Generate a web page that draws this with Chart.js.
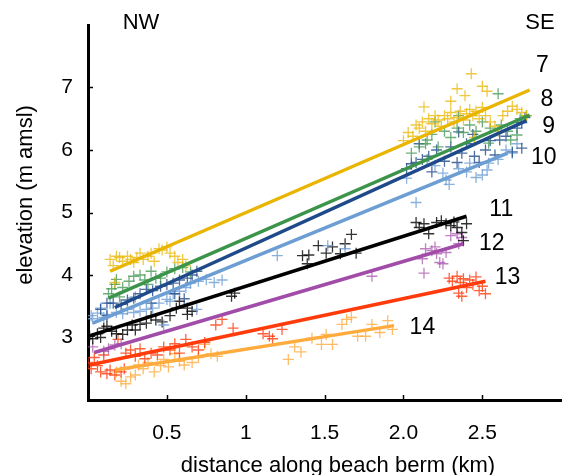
<!DOCTYPE html>
<html>
<head>
<meta charset="utf-8">
<script src="https://cdn.jsdelivr.net/npm/chart.js@4.4.1/dist/chart.umd.min.js"></script>
<style>
  body { margin: 0; background: #fff; }
  canvas { display: block; }
</style>
</head>
<body>
<canvas id="chart" width="568" height="475"></canvas>
<script>
// profile numbers (labels on the right)
const profiles = ['7', '8', '9', '10', '11', '12', '13', '14'];

// x tick labels (km)
const xTickLabels = { 0.5: '0.5', 1: '1', 1.5: '1.5', 2: '2.0', 2.5: '2.5' };

// measured berm elevations [distance km, elevation m amsl]
const pts7 = [[0.14,4.25],[0.16,4.15],[0.18,4.30],[0.20,4.28],[0.22,4.22],[0.25,4.30],[0.27,4.25],[0.29,4.20],[0.31,4.28],[0.33,4.35],
  [0.35,4.25],[0.38,4.30],[0.40,4.35],[0.42,4.22],[0.45,4.42],[0.47,4.40],[0.50,4.45],[0.52,4.35],[0.55,4.30],[0.57,4.20],
  [0.60,4.25],[0.62,4.15],[0.17,3.88],
  [2.00,6.15],[2.03,6.28],[2.06,6.22],[2.08,6.40],[2.10,6.35],[2.12,6.45],[2.14,6.30],[2.16,6.50],[2.18,6.42],[2.20,6.55],
  [2.22,6.48],[2.24,6.38],[2.26,6.55],[2.28,6.50],[2.30,6.60],[2.32,6.45],[2.34,6.52],[2.36,6.62],[2.38,6.48],[2.40,6.58],
  [2.42,6.65],[2.44,6.55],[2.46,6.62],[2.48,6.50],[2.50,6.68],[2.52,6.55],[2.55,6.45],[2.58,6.38],[2.60,6.30],[2.63,6.55],
  [2.66,6.62],[2.69,6.70],[2.72,6.65],[2.75,6.60],[2.78,6.55],
  [2.43,7.22],[2.34,6.98],[2.39,6.87],[2.50,7.02],[2.53,6.94],[2.13,6.69],[2.30,6.78],[2.45,6.20]];
const pts8 = [[0.13,3.70],[0.15,3.78],[0.17,3.85],[0.18,3.93],[0.22,3.80],[0.26,3.90],[0.29,3.98],[0.33,4.00],[0.36,3.92],[0.40,4.06],
  [0.43,3.95],[0.46,3.95],[0.50,4.05],[0.55,4.10],[0.60,4.12],[0.65,4.05],[0.20,3.65],[0.38,3.85],
  [2.05,5.95],[2.10,6.05],[2.14,6.10],[2.15,6.16],[2.18,6.25],[2.22,6.05],[2.26,6.30],[2.30,6.20],[2.34,6.35],[2.38,6.28],
  [2.42,6.40],[2.46,6.30],[2.50,6.45],[2.54,6.11],[2.55,6.35],[2.60,6.90],[2.62,6.40],[2.66,6.30],[2.68,6.16],[2.72,6.24],
  [2.74,6.50],[2.78,6.55],[2.20,6.45],[2.35,6.55],[2.15,5.85]];
const pts9 = [[0.08,3.45],[0.12,3.55],[0.16,3.55],[0.21,3.53],[0.25,3.60],[0.29,3.63],[0.33,3.70],[0.37,3.77],[0.41,3.75],[0.46,3.82],
  [0.50,3.85],[0.54,3.87],[0.58,3.92],[0.63,3.95],[0.66,4.00],[0.69,4.06],[0.55,3.70],[0.40,3.55],[0.12,3.35],[0.61,3.62],
  [2.02,5.70],[2.05,5.78],[2.08,5.80],[2.12,5.85],[2.10,6.10],[2.16,5.90],[2.21,6.00],[2.26,5.82],[2.30,6.05],[2.34,5.80],
  [2.37,5.95],[2.40,6.10],[2.45,5.90],[2.48,5.80],[2.52,6.00],[2.55,6.15],[2.58,5.92],[2.61,6.16],[2.65,6.22],[2.69,5.97],
  [2.72,6.35],[2.75,6.03],[2.75,6.44],[2.77,6.52],[2.35,6.29],[2.44,6.25],[2.18,5.65]];
const pts10 = [[0.02,3.35],[0.03,3.30],[0.06,3.39],[0.08,3.47],[0.10,3.32],[0.12,3.37],[0.14,3.55],[0.18,3.40],[0.22,3.38],[0.25,3.45],
  [0.29,3.40],[0.33,3.42],[0.37,3.45],[0.41,3.47],[0.45,3.55],[0.50,3.61],[0.54,3.70],[0.58,3.74],[0.62,3.80],[0.65,3.87],
  [0.70,3.90],[0.75,3.93],[0.80,3.88],[0.85,3.92],[0.48,3.20],[0.30,3.65],[0.69,3.45],[0.52,3.58],
  [1.20,4.31],[1.52,4.47],[1.63,4.42],
  [2.02,5.55],[2.08,5.16],[2.25,5.63],[2.27,5.52],[2.29,5.45],[2.35,5.70],[2.40,5.65],[2.42,5.79],[2.46,5.56],[2.50,5.60],
  [2.53,5.68],[2.54,5.79],[2.60,5.85],[2.65,6.00],[2.69,5.95],[2.72,6.10],[2.20,5.75]];
const pts11 = [[0.01,3.02],[0.03,2.98],[0.06,3.06],[0.08,3.00],[0.10,3.15],[0.12,3.18],[0.15,3.10],[0.18,3.06],[0.22,3.05],[0.25,3.12],
  [0.28,3.20],[0.33,3.21],[0.37,3.23],[0.40,3.34],[0.43,3.28],[0.47,3.25],[0.52,3.35],[0.56,3.47],[0.58,3.58],[0.63,3.37],
  [0.66,3.42],[0.63,3.47],[0.30,3.12],
  [0.91,3.66],[0.93,3.71],[1.36,4.31],[1.39,4.18],[1.40,4.32],[1.46,4.47],[1.51,4.35],[1.55,4.45],[1.60,4.34],[1.63,4.50],
  [1.67,4.65],[1.70,4.35],
  [2.08,4.84],[2.10,4.76],[2.13,4.82],[2.16,4.66],[2.21,4.84],[2.24,4.87],[2.27,4.82],[2.30,4.79],[2.32,4.85],[2.34,4.76],
  [2.37,4.68],[2.40,4.82],[2.38,4.55]];
const pts12 = [[0.03,2.85],[0.13,2.82],[0.17,2.88],[0.21,2.90],[0.10,2.78],
  [1.80,3.98],
  [2.12,4.26],[2.13,4.03],[2.14,4.42],[2.18,4.39],[2.21,4.34],[2.23,4.20],[2.25,4.18],[2.27,4.36],[2.30,4.63],[2.34,4.66],
  [2.37,4.60],[2.35,4.50],[2.20,4.45]];
const pts13 = [[0.00,2.60],[0.02,2.50],[0.04,2.68],[0.06,2.55],[0.08,2.45],[0.10,2.72],[0.12,2.42],[0.14,2.48],[0.17,2.40],[0.19,2.97],
  [0.21,2.45],[0.23,2.50],[0.24,2.75],[0.27,2.80],[0.30,2.70],[0.33,2.82],[0.36,2.66],[0.40,2.75],[0.44,2.72],[0.48,2.85],
  [0.52,2.80],[0.55,2.90],[0.58,2.75],[0.62,2.97],[0.66,2.85],[0.70,2.80],[0.74,2.92],[0.81,3.20],[0.85,3.29],[0.92,3.15],
  [1.11,3.06],[1.15,3.02],[1.17,2.98],[1.23,3.13],
  [2.29,3.95],[2.31,3.90],[2.34,3.98],[2.36,3.88],[2.38,3.94],[2.40,3.80],[2.42,3.92],[2.44,3.85],[2.46,3.97],[2.48,3.75],
  [2.50,3.82],[2.52,3.70],[2.37,3.66],[2.35,3.71]];
const pts14 = [[0.18,2.45],[0.21,2.30],[0.24,2.26],[0.27,2.37],[0.32,2.56],[0.35,2.50],[0.38,2.60],[0.42,2.45],[0.46,2.55],[0.51,2.53],
  [0.55,2.74],[0.58,2.62],[0.61,2.56],[0.66,2.60],[0.70,2.68],[0.74,2.89],[0.78,2.74],[0.82,2.70],[0.30,2.40],[0.48,2.65],
  [1.27,2.65],[1.31,2.85],[1.35,2.77],[1.42,2.99],[1.48,2.89],[1.51,3.05],[1.55,2.89],[1.61,3.21],[1.64,3.29],[1.67,3.32],
  [1.71,3.02],[1.76,3.02],[1.80,3.21],[1.85,3.08],[1.90,3.27],[1.93,3.13]];

// fitted trend lines: start and end [km, m]
const lineStart = [[0.14,4.06],[0.13,3.63],[0.17,3.48],[0.03,3.23],[0.00,3.02],[0.04,2.76],[0.01,2.56],[0.17,2.48]];
const lineEnd   = [[2.80,6.96],[2.80,6.56],[2.78,6.47],[2.66,5.95],[2.40,4.94],[2.38,4.50],[2.52,3.90],[1.94,3.19]];

// where each profile number sits [km, m]
const labelAt = [[2.88,7.35],[2.91,6.81],[2.92,6.37],[2.89,5.87],[2.62,5.05],[2.56,4.50],[2.66,3.95],[2.12,3.16]];

const allPts = [pts7, pts8, pts9, pts10, pts11, pts12, pts13, pts14];
const colors = ['#E9B500', '#3C944B', '#1E4A8A', '#6C9DD3', '#000000', '#A24CA9', '#FF3B0B', '#FFAB3E'];
const pointColors = ['rgba(233,181,0,0.75)', 'rgba(60,148,75,0.75)', 'rgba(30,74,138,0.8)', 'rgba(108,157,211,0.8)',
  'rgba(0,0,0,0.8)', 'rgba(162,76,169,0.7)', 'rgba(255,59,11,0.8)', 'rgba(255,171,62,0.8)'];

const FONT = 'Liberation Sans, Arial, sans-serif';

const datasets = [];
allPts.forEach((pts, i) => {
    datasets.push({
        data: pts.map(p => ({ x: p[0], y: p[1] })),
        pointStyle: 'cross',
        pointRadius: 5.5,
        pointBorderWidth: 1.3,
        borderColor: pointColors[i],
        backgroundColor: pointColors[i],
        showLine: false,
        order: 2
    });
});
profiles.forEach((p, i) => {
    datasets.push({
        data: [{ x: lineStart[i][0], y: lineStart[i][1] }, { x: lineEnd[i][0], y: lineEnd[i][1] }],
        showLine: true,
        borderColor: colors[i],
        borderWidth: 3.5,
        pointRadius: 0,
        order: 1
    });
});

// inward tick marks, axis titles and annotations
const decor = {
    id: 'decor',
    afterDraw(chart) {
        const { ctx, chartArea: a, scales: { x, y } } = chart;
        ctx.save();
        ctx.strokeStyle = '#000';
        ctx.lineWidth = 1.5;
        [3, 4, 5, 6, 7].forEach(v => {
            const py = Math.round(y.getPixelForValue(v)) + 0.5;
            ctx.beginPath(); ctx.moveTo(a.left, py); ctx.lineTo(a.left + 5, py); ctx.stroke();
        });
        [0.5, 1, 1.5, 2, 2.5].forEach(v => {
            const px = Math.round(x.getPixelForValue(v)) + 0.5;
            ctx.beginPath(); ctx.moveTo(px, a.bottom); ctx.lineTo(px, a.bottom - 5); ctx.stroke();
        });

        ctx.fillStyle = '#000';
        ctx.textAlign = 'center';
        ctx.textBaseline = 'middle';
        ctx.font = '22px ' + FONT;
        ctx.fillText('NW', 141, 23);
        ctx.fillText('SE', 540, 23);
        ctx.fillText('distance along beach berm (km)', 338, 466);

        ctx.save();
        ctx.translate(26, 195);
        ctx.rotate(-Math.PI / 2);
        ctx.fillText('elevation (m amsl)', 0, 0);
        ctx.restore();

        ctx.font = '23px ' + FONT;
        profiles.forEach((p, i) => {
            ctx.fillText(p, x.getPixelForValue(labelAt[i][0]), y.getPixelForValue(labelAt[i][1]));
        });
        ctx.restore();
    }
};

new Chart(document.getElementById('chart'), {
    type: 'scatter',
    data: { datasets },
    options: {
        responsive: false,
        animation: false,
        layout: { padding: { top: 25, right: 6, left: 0, bottom: 0 } },
        plugins: { legend: { display: false }, tooltip: { enabled: false } },
        scales: {
            x: {
                type: 'linear', min: 0, max: 3,
                afterFit(s) { s.height = 75; s.paddingLeft = 0; s.paddingRight = 0; },
                grid: { display: false, drawTicks: false },
                border: { color: '#000', width: 3 },
                ticks: {
                    stepSize: 0.5, autoSkip: false, maxRotation: 0, padding: 21,
                    color: '#000', font: { size: 21, family: FONT },
                    callback: v => xTickLabels[v] || ''
                }
            },
            y: {
                min: 2, max: 8,
                afterFit(s) { s.width = 88; s.paddingTop = 0; s.paddingBottom = 0; },
                grid: { display: false, drawTicks: false },
                border: { color: '#000', width: 3 },
                ticks: {
                    stepSize: 1, padding: 15,
                    color: '#000', font: { size: 21, family: FONT },
                    callback: v => (v > 2 && v < 8) ? String(v) : ''
                }
            }
        }
    },
    plugins: [decor]
});
</script>
</body>
</html>
